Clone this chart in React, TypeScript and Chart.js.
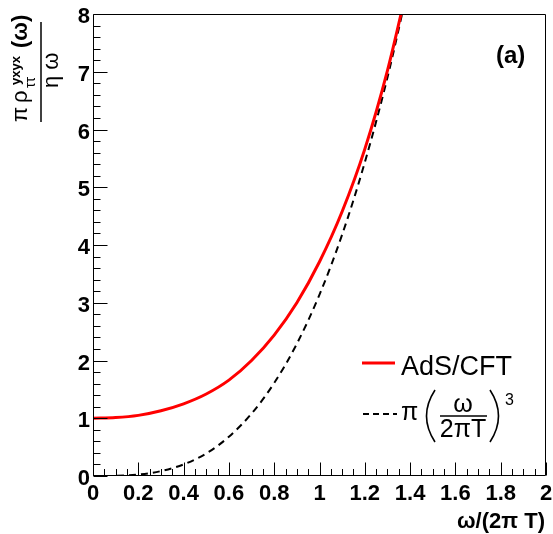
import React, { useEffect, useRef } from "react";
import { Chart, registerables } from "chart.js";

Chart.register(...registerables);

const FONT = '"Liberation Sans", Arial, Helvetica, sans-serif';

const xValues = [0, 0.1, 0.2, 0.3, 0.4, 0.5, 0.6, 0.7, 0.8, 0.9, 1.0, 1.1, 1.2, 1.3, 1.4];
const adsCftValues = [1.0, 1.012, 1.05, 1.13, 1.25, 1.42, 1.66, 2.0, 2.44, 3.0, 3.71, 4.58, 5.66, 7.02, 8.68];
const cubicValues = [0, 0.003, 0.025, 0.085, 0.2, 0.39, 0.68, 1.08, 1.61, 2.29, 3.14, 4.18, 5.43, 6.9, 8.62];

const xTickLabels = ["0", "0.2", "0.4", "0.6", "0.8", "1", "1.2", "1.4", "1.6", "1.8", "2"];
const yTickLabels = ["0", "1", "2", "3", "4", "5", "6", "7", "8"];

const X_MIN = 0, X_MAX = 2, Y_MIN = 0, Y_MAX = 8;

const rootPlugin = {
  id: "rootDecor",
  afterDraw(chart: any) {
    const ctx: CanvasRenderingContext2D = chart.ctx;
    const xs = chart.scales.x;
    const ys = chart.scales.y;
    const { left, right, top, bottom } = chart.chartArea;
    ctx.save();
    ctx.strokeStyle = "#000";
    ctx.fillStyle = "#000";
    ctx.lineWidth = 1;
    const L = Math.round(left) + 0.5;
    const R = Math.round(right) - 0.5;
    const T = Math.round(top) + 0.5;
    const B = Math.round(bottom) - 0.5;
    ctx.beginPath();
    ctx.rect(L, T, R - L, B - T);
    ctx.stroke();

    // x ticks
    ctx.beginPath();
    for (let i = 0; i <= 40; i++) {
      const v = X_MIN + i * 0.05;
      const px = Math.round(xs.getPixelForValue(v)) + 0.5;
      const len = i % 4 === 0 ? 13 : 6.5;
      ctx.moveTo(px, B);
      ctx.lineTo(px, B - len);
    }
    // y ticks
    for (let i = 0; i <= 40; i++) {
      const v = Y_MIN + i * 0.2;
      const py = Math.round(ys.getPixelForValue(v)) + 0.5;
      const len = i % 5 === 0 ? 14 : 7;
      ctx.moveTo(L, py);
      ctx.lineTo(L + len, py);
    }
    ctx.stroke();

    // tick labels
    ctx.font = `bold 22px ${FONT}`;
    ctx.textAlign = "center";
    ctx.textBaseline = "top";
    xTickLabels.forEach((lab, i) => {
      const v = X_MIN + i * 0.2;
      ctx.fillText(lab, xs.getPixelForValue(v), 483);
    });
    ctx.textAlign = "right";
    ctx.textBaseline = "middle";
    yTickLabels.forEach((lab, i) => {
      ctx.fillText(lab, 90, ys.getPixelForValue(Y_MIN + i) + 3);
    });

    // x title
    ctx.textAlign = "right";
    ctx.textBaseline = "alphabetic";
    ctx.font = `bold 22px ${FONT}`;
    ctx.fillText("ω/(2π T)", 545, 528);

    // y title (rotated)
    ctx.save();
    ctx.translate(27, 122);
    ctx.rotate(-Math.PI / 2);
    ctx.textAlign = "left";
    ctx.textBaseline = "alphabetic";
    ctx.font = `22px ${FONT}`;
    ctx.fillText("π", 0, 0);
    ctx.fillText("ρ", 19, 0);
    ctx.font = `bold 13px ${FONT}`;
    ctx.fillText("yxyx", 37, -7);
    ctx.font = `14px ${FONT}`;
    ctx.fillText("ττ", 34, 8);
    ctx.font = `bold 22px ${FONT}`;
    ctx.fillText("(ω)", 74, 0);
    ctx.restore();
    ctx.beginPath();
    ctx.lineWidth = 1.5;
    ctx.moveTo(41, 22);
    ctx.lineTo(41, 122);
    ctx.stroke();
    ctx.save();
    ctx.translate(58, 122);
    ctx.rotate(-Math.PI / 2);
    ctx.font = `22px ${FONT}`;
    ctx.textAlign = "left";
    ctx.fillText("η ω", 34, 0);
    ctx.restore();

    // (a)
    ctx.font = `bold 24px ${FONT}`;
    ctx.textAlign = "left";
    ctx.textBaseline = "alphabetic";
    ctx.fillText("(a)", 496, 63);

    // legend
    ctx.beginPath();
    ctx.strokeStyle = "#ff0000";
    ctx.lineWidth = 3;
    ctx.moveTo(362, 363);
    ctx.lineTo(395, 363);
    ctx.stroke();
    ctx.font = `27px ${FONT}`;
    ctx.fillText("AdS/CFT", 401, 375);

    ctx.beginPath();
    ctx.strokeStyle = "#000";
    ctx.lineWidth = 2;
    ctx.setLineDash([6, 4]);
    ctx.moveTo(363, 414);
    ctx.lineTo(397, 414);
    ctx.stroke();
    ctx.setLineDash([]);
    ctx.font = `25px ${FONT}`;
    ctx.fillText("π", 401, 420);
    ctx.lineWidth = 1.6;
    ctx.beginPath();
    ctx.moveTo(435, 390);
    ctx.quadraticCurveTo(418, 416, 435, 442);
    ctx.stroke();
    ctx.beginPath();
    ctx.moveTo(490, 390);
    ctx.quadraticCurveTo(507, 416, 490, 442);
    ctx.stroke();
    ctx.textAlign = "center";
    ctx.fillText("ω", 463, 412);
    ctx.fillText("2πT", 463, 437);
    ctx.beginPath();
    ctx.lineWidth = 1.5;
    ctx.moveTo(440, 416);
    ctx.lineTo(487, 416);
    ctx.stroke();
    ctx.textAlign = "left";
    ctx.font = `16px ${FONT}`;
    ctx.fillText("3", 505, 405);
    ctx.restore();
  },
};

export default function App() {
  const ref = useRef<HTMLCanvasElement | null>(null);
  useEffect(() => {
    if (!ref.current) return;
    const chart = new Chart(ref.current, {
      type: "line",
      data: {
        datasets: [
          {
            label: "AdS/CFT",
            data: xValues.map((x, i) => ({ x, y: adsCftValues[i] })),
            borderColor: "#ff0000",
            borderWidth: 3,
            pointRadius: 0,
            cubicInterpolationMode: "monotone",
            fill: false,
            clip: 0,
          },
          {
            label: "π (ω/2πT)^3",
            data: xValues.map((x, i) => ({ x, y: cubicValues[i] })),
            borderColor: "#000000",
            borderWidth: 2,
            borderDash: [7, 5],
            pointRadius: 0,
            cubicInterpolationMode: "monotone",
            fill: false,
            clip: 0,
          },
        ],
      },
      options: {
        animation: false,
        responsive: false,
        layout: { padding: { left: 93, top: 14, right: 7, bottom: 58 } },
        scales: {
          x: { type: "linear", min: X_MIN, max: X_MAX, display: false },
          y: { type: "linear", min: Y_MIN, max: Y_MAX, display: false },
        },
        plugins: { legend: { display: false }, tooltip: { enabled: false } },
      },
      plugins: [rootPlugin],
    } as any);
    return () => chart.destroy();
  }, []);
  return (
    <div style={{ position: "absolute", left: 0, top: 0, width: 553, height: 534, background: "#fff" }}>
      <canvas ref={ref} width={553} height={534} style={{ display: "block", width: 553, height: 534 }} />
    </div>
  );
}
